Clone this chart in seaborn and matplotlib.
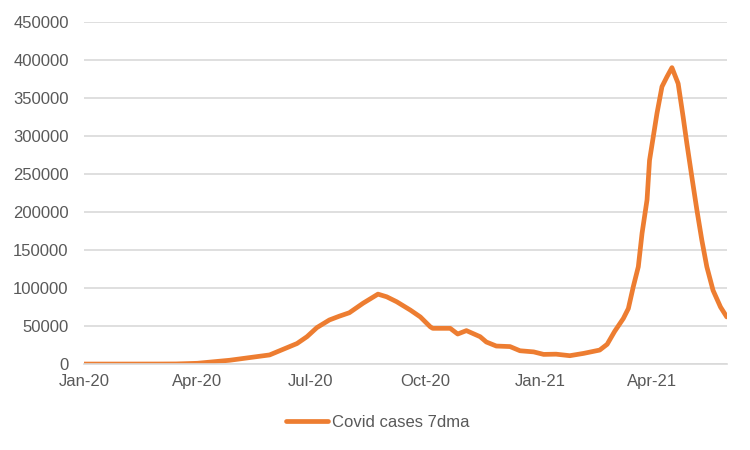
import matplotlib
matplotlib.use("Agg")
import matplotlib.pyplot as plt
import matplotlib.dates as mdates
import seaborn as sns
import pandas as pd

dates = [
    "2020-01-01", "2020-02-01", "2020-03-01", "2020-03-15", "2020-04-01",
    "2020-04-27", "2020-05-29", "2020-06-20", "2020-06-28", "2020-07-06",
    "2020-07-12", "2020-07-16", "2020-07-24", "2020-08-01", "2020-08-12",
    "2020-08-24", "2020-08-31", "2020-09-08", "2020-09-19", "2020-09-27",
    "2020-10-05", "2020-10-07", "2020-10-21", "2020-10-27", "2020-11-03",
    "2020-11-14", "2020-11-19", "2020-11-27", "2020-12-08", "2020-12-16",
    "2020-12-27", "2021-01-04", "2021-01-14", "2021-01-25", "2021-02-05",
    "2021-02-18", "2021-02-24", "2021-03-02", "2021-03-09", "2021-03-13",
    "2021-03-17", "2021-03-21", "2021-03-24", "2021-03-28", "2021-03-30",
    "2021-04-02", "2021-04-05", "2021-04-09", "2021-04-13", "2021-04-17",
    "2021-04-22", "2021-04-26", "2021-04-29", "2021-05-03", "2021-05-07",
    "2021-05-11", "2021-05-15", "2021-05-20", "2021-05-26", "2021-05-31",
]
cases = [
    0, 0, 50, 150, 1000,
    5000, 12000, 27000, 36000, 48000,
    54000, 58000, 63000, 67500, 80000,
    92000, 88500, 82000, 71000, 62000,
    49000, 47000, 47000, 39500, 44000,
    36000, 29000, 23700, 23000, 17500,
    16000, 12700, 13000, 11000, 14000,
    18400, 26000, 43000, 60000, 73000,
    102000, 128000, 172000, 216000, 268000,
    299000, 330000, 365000, 378000, 390000,
    369000, 325000, 290000, 246000, 203000,
    163000, 128000, 97000, 75000, 62000,
]
series_name = "Covid cases 7dma"
y_ticks = [0, 50000, 100000, 150000, 200000, 250000, 300000, 350000, 400000, 450000]
x_tick_dates = ["2020-01-01", "2020-04-01", "2020-07-01", "2020-10-01", "2021-01-01", "2021-04-01"]

df = pd.DataFrame({"date": pd.to_datetime(dates), "cases": cases, "series": series_name})

sns.set_style("white")
plt.rcParams["font.family"] = ["Liberation Sans", "DejaVu Sans"]

fig = plt.figure(figsize=(7.5, 4.5), dpi=100)
ax = fig.add_axes([0.112, 0.191, 0.857, 0.760])

sns.lineplot(data=df, x="date", y="cases", hue="series", palette=["#ED7D31"],
             linewidth=3.4, ax=ax, legend=True,
             solid_capstyle="round", solid_joinstyle="round")

ax.set_xlim(pd.Timestamp("2020-01-01"), pd.Timestamp("2021-05-31"))
ax.set_ylim(0, 450000)
ax.set_yticks(y_ticks)
ax.set_yticklabels([str(v) for v in y_ticks])
ax.set_xticks(pd.to_datetime(x_tick_dates))
ax.xaxis.set_major_formatter(mdates.DateFormatter("%b-%y"))
ax.grid(axis="y", color="#d9d9d9", linewidth=1.2)
ax.set_axisbelow(True)
for s in ["left", "right", "top"]:
    ax.spines[s].set_visible(False)
ax.spines["bottom"].set_color("#d9d9d9")
ax.spines["bottom"].set_linewidth(1.2)
ax.tick_params(axis="x", colors="#595959", labelsize=12, length=5, width=1.2,
               direction="out", pad=2, color="#d9d9d9")
ax.tick_params(axis="y", colors="#595959", labelsize=12, length=0, pad=11)
ax.set_xlabel("")
ax.set_ylabel("")

handles, labels = ax.get_legend_handles_labels()
ax.get_legend().remove()
fig.legend(handles, labels, loc="center", bbox_to_anchor=(0.504, 0.062),
           frameon=False, fontsize=12, labelcolor="#595959",
           handlelength=2.5, handletextpad=0.25)

fig.savefig("out.png", dpi=100)
